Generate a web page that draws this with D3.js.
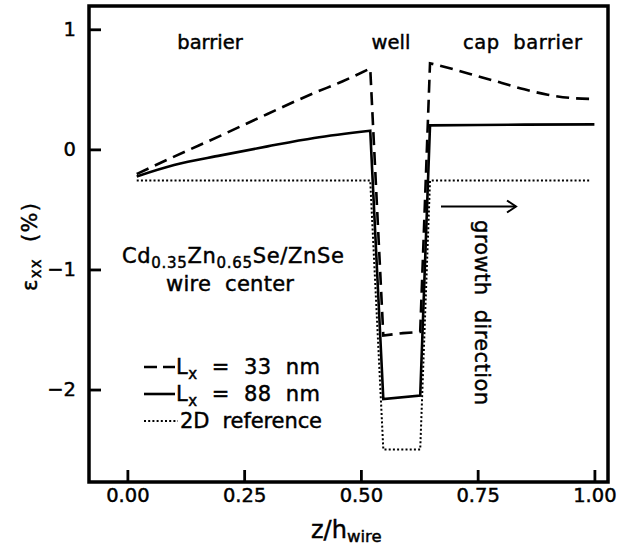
<!DOCTYPE html>
<html>
<head>
<meta charset="utf-8">
<script src="https://cdn.jsdelivr.net/npm/d3@7"></script>
<style>
  html, body { margin: 0; padding: 0; background: #fff; }
  svg { display: block; }
  text { font-family: "DejaVu Sans", "Liberation Sans", sans-serif; fill: #000;
         stroke: #000; stroke-width: 0.45px; white-space: pre; }
</style>
</head>
<body>
<svg id="chart" width="623" height="548"></svg>
<script>
// Strain profile eps_xx along the wire axis (z / h_wire)
const xTicks = [0, 0.25, 0.5, 0.75, 1.0];
const yTicks = [-2, -1, 0, 1];

// L_x = 33 nm (dashed): lower barrier, well, cap barrier
const z33Bar   = [0.02, 0.1, 0.2, 0.3, 0.4, 0.46, 0.52];
const exx33Bar = [-0.205, -0.06, 0.115, 0.295, 0.47, 0.565, 0.674];
const z33Well   = [0.52, 0.548, 0.59, 0.627, 0.648];
const exx33Well = [0.674, -1.55, -1.53, -1.52, 0.717];
const z33Cap   = [0.648, 0.7, 0.75, 0.8, 0.85, 0.9, 0.95, 1.0];
const exx33Cap = [0.717, 0.665, 0.61, 0.555, 0.5, 0.455, 0.428, 0.42];

// L_x = 88 nm (solid)
const z88Bar   = [0.02, 0.1, 0.2, 0.3, 0.4, 0.52];
const exx88Bar = [-0.225, -0.13, -0.05, 0.025, 0.095, 0.155];
const z88Well   = [0.52, 0.548, 0.627, 0.648];
const exx88Well = [0.155, -2.08, -2.05, 0.2];
const z88Cap   = [0.648, 0.75, 0.85, 1.0];
const exx88Cap = [0.2, 0.203, 0.206, 0.208];

// 2D reference (dotted)
const z2D   = [0.02, 0.52, 0.548, 0.627, 0.648, 0.99];
const exx2D = [-0.26, -0.26, -2.5, -2.5, -0.26, -0.26];

const svg = d3.select("#chart");
const L = 89, R = 608, T = 6, B = 482;

const x = d3.scaleLinear().domain([-0.0822, 1.0291]).range([L, R]);
const y = d3.scaleLinear().domain([-2.77, 1.194]).range([B, T]);

const FS = 19.5;

// axes with inward ticks
const gx = svg.append("g").attr("transform", `translate(0,${B})`)
  .call(d3.axisBottom(x).tickValues(xTicks).tickFormat(d3.format(".2f"))
        .tickSizeInner(-12).tickSizeOuter(0).tickPadding(6));
const gy = svg.append("g").attr("transform", `translate(${L},0)`)
  .call(d3.axisLeft(y).tickValues(yTicks).tickFormat(d3.format("d"))
        .tickSizeInner(-12).tickSizeOuter(0).tickPadding(13));
[gx, gy].forEach(g => {
  g.select(".domain").remove();
  g.selectAll(".tick line").attr("stroke", "#000").attr("stroke-width", 2.8);
  g.selectAll(".tick text").attr("font-size", FS).attr("font-family", "DejaVu Sans");
});

// frame
svg.append("rect").attr("x", L).attr("y", T).attr("width", R - L).attr("height", B - T)
  .attr("fill", "none").attr("stroke", "#000").attr("stroke-width", 3.5);

const pairs = (zs, vs) => zs.map((z, i) => [z, vs[i]]);
const smooth = d3.line().x(d => x(d[0])).y(d => y(d[1])).curve(d3.curveMonotoneX);
const straight = d3.line().x(d => x(d[0])).y(d => y(d[1]));

// join pieces into one continuous path (each piece starts where the last ended)
function joined(pieces) {
  return pieces.map(([gen, data], i) => {
    const d = gen(data);
    return i === 0 ? d : d.replace(/^M[^A-Za-z]*/, "");
  }).join("");
}

svg.append("path").attr("d", straight(pairs(z2D, exx2D)))
  .attr("fill", "none").attr("stroke", "#000").attr("stroke-width", 2).attr("stroke-dasharray", "2,2.2");
svg.append("path")
  .attr("d", joined([[smooth, pairs(z88Bar, exx88Bar)], [straight, pairs(z88Well, exx88Well)], [smooth, pairs(z88Cap, exx88Cap)]]))
  .attr("fill", "none").attr("stroke", "#000").attr("stroke-width", 2.6).attr("stroke-linejoin", "miter");
svg.append("path")
  .attr("d", joined([[smooth, pairs(z33Bar, exx33Bar)], [straight, pairs(z33Well, exx33Well)], [smooth, pairs(z33Cap, exx33Cap)]]))
  .attr("fill", "none").attr("stroke", "#000").attr("stroke-width", 2.6).attr("stroke-dasharray", "13,7");

// text helper: parts are [string, isSubscript]
function rich(g, px, py, parts, opts = {}) {
  const t = g.append("text").attr("x", px).attr("y", py).attr("font-size", opts.size || FS)
    .attr("text-anchor", opts.anchor || "start");
  if (opts.rotate) t.attr("transform", `rotate(${opts.rotate},${px},${py})`);
  if (opts.length) t.attr("textLength", opts.length).attr("lengthAdjust", "spacing");
  let sub = false;
  const subSize = opts.subSize || 14.5;
  const shift = opts.shift || 5;
  parts.forEach(([s, isSub]) => {
    const ts = t.append("tspan").text(s);
    if (isSub && !sub) { ts.attr("dy", shift).attr("font-size", subSize); sub = true; }
    else if (isSub) { ts.attr("font-size", subSize); }
    else if (sub) { ts.attr("dy", -shift); sub = false; }
  });
  return t;
}

const FA = 21;   // annotation size

// region labels
rich(svg, 210, 49, [["barrier"]], { anchor: "middle" });
rich(svg, 391, 49, [["well"]], { anchor: "middle" });
rich(svg, 463, 49, [["cap  barrier"]], { length: 119 });

// material and position
rich(svg, 122, 263, [["Cd"], ["0.35", true], ["Zn"], ["0.65", true], ["Se/ZnSe"]], { size: FA, subSize: 15, length: 222 });
rich(svg, 166, 291, [["wire  center"]], { size: FA, length: 128 });

// legend
const legend = [
  { y: 374, dash: "13,6", w: 2.6, parts: [["L"], ["x", true], ["  =  33  nm"]] },
  { y: 401, dash: null,   w: 2.6, parts: [["L"], ["x", true], ["  =  88  nm"]] },
  { y: 428, dash: "2,2.2", w: 2, parts: [["2D  reference"]] }
];
legend.forEach((e, i) => {
  const ly = e.y - 7;
  const seg = svg.append("line").attr("x1", 144).attr("x2", i === 2 ? 178 : 175)
    .attr("y1", ly).attr("y2", ly).attr("stroke", "#000").attr("stroke-width", e.w);
  if (e.dash) seg.attr("stroke-dasharray", e.dash);
  rich(svg, i === 2 ? 180 : 176, e.y, e.parts, { size: FA, subSize: 15, length: i === 2 ? 142 : 144 });
});

// growth direction arrow and label
svg.append("line").attr("x1", 441).attr("x2", 516).attr("y1", 206.5).attr("y2", 206.5)
  .attr("stroke", "#000").attr("stroke-width", 2);
svg.append("path").attr("d", "M507,200.5 L516,206.5 L507,212.5")
  .attr("fill", "none").attr("stroke", "#000").attr("stroke-width", 2);
rich(svg, 475, 220, [["growth  direction"]], { size: FA, rotate: 90, length: 185 });

// axis titles
rich(svg, 311, 538, [["z/h"], ["wire", true]], { size: 24, subSize: 16.5, shift: 4 });
rich(svg, 37, 247, [["ε"], ["xx", true], ["  (%)"]], { size: FA, rotate: -90, anchor: "middle", subSize: 15, shift: 4, length: 88 });
</script>
</body>
</html>
